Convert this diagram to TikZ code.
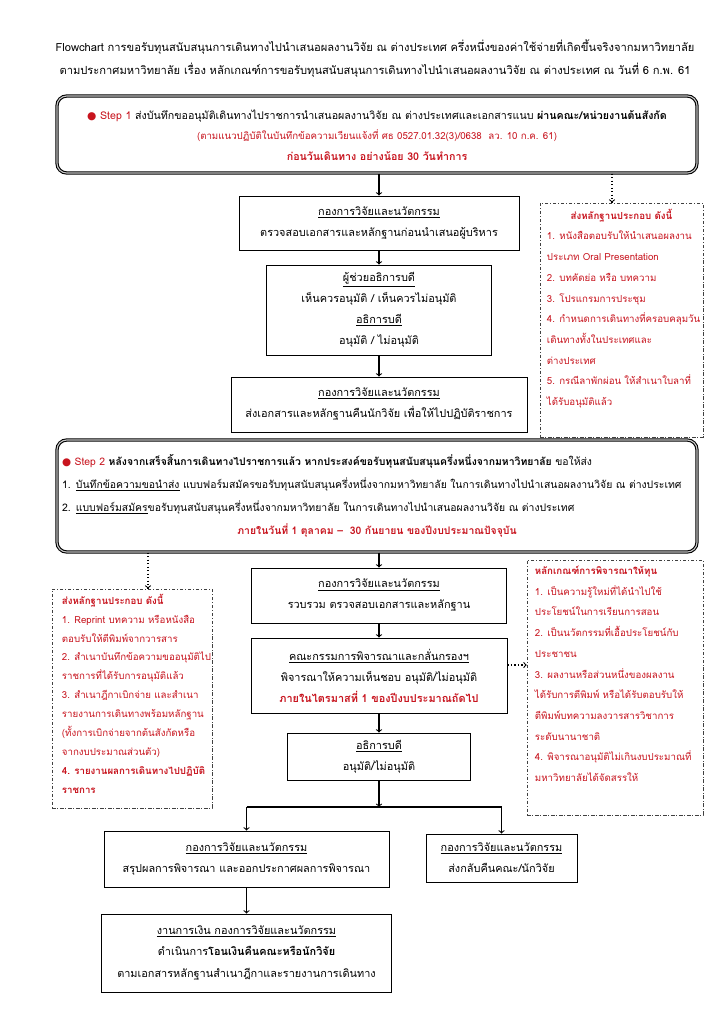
\documentclass[tikz,border=0pt]{standalone}
\usepackage{fontspec}
\setmainfont{Loma}[Script=Thai]
\newfontfamily\symfont{DejaVu Sans}
\usetikzlibrary{positioning,calc}

\definecolor{thred}{RGB}{200,20,30}
\newlength{\pxu}
\setlength{\pxu}{0.029cm}
\newcommand{\hd}[1]{\underline{#1}}
\newcommand{\dotmark}{{\color{thred}\symfont ●}}
\newcommand{\notefont}{\fontsize{8}{17.1}\selectfont\lineskiplimit=-30pt\relax}
\newcommand{\notefonttight}{\fontsize{8}{15.6}\selectfont\lineskiplimit=-30pt\relax}

\tikzset{
  flowbox/.style={draw, line width=0.7pt, align=center, inner sep=0pt,
    font=\fontsize{9}{17.3}\selectfont},
  stepbox/.style={draw, rounded corners=8pt, line width=0.9pt, double=gray!45,
    double distance=0.9pt, inner sep=0pt},
  notebox/.style={draw=black!75, line width=0.5pt,
    dash pattern=on 3pt off 1.5pt on 0.6pt off 1.5pt, inner sep=0pt},
  notetext/.style={text=thred, align=left, inner sep=0pt, anchor=north west,
    font=\notefont},
  flow/.style={->, line width=0.9pt},
  dotflow/.style={->, line width=0.9pt, dotted},
}

\begin{document}
\begin{tikzpicture}[x=\pxu, y=-\pxu]
\fill[white] (0,0) rectangle (724,1024);
\useasboundingbox (0,0) rectangle (724,1024);

% title
\node[align=center, font=\fontsize{9.2}{19}\selectfont] (title) at (375,59)
  {Flowchart การขอรับทุนสนับสนุนการเดินทางไปนำเสนอผลงานวิจัย ณ ต่างประเทศ ครึ่งหนึ่งของค่าใช้จ่ายที่เกิดขึ้นจริงจากมหาวิทยาลัย\\
   ตามประกาศมหาวิทยาลัย เรื่อง หลักเกณฑ์การขอรับทุนสนับสนุนการเดินทางไปนำเสนอผลงานวิจัย ณ ต่างประเทศ ณ วันที่ 6 ก.พ. 61};

% step 1
\node[stepbox, minimum width=640\pxu, minimum height=77\pxu, align=center,
  font=\fontsize{8.8}{16.1}\selectfont] (s1) at (377,134.5)
  {\mbox{}\\[-7pt]
   \dotmark{} {\color{thred}Step 1} ส่งบันทึกขออนุมัติเดินทางไปราชการนำเสนอผลงานวิจัย ณ ต่างประเทศและเอกสารแนบ \textbf{ผ่านคณะ/หน่วยงานต้นสังกัด}\\[0.5pt]
   {\color{thred}\fontsize{8}{16.1}\selectfont (ตามแนวปฏิบัติในบันทึกข้อความเวียนแจ้งที่ ศธ 0527.01.32(3)/0638~~ลว. 10 ก.ค. 61)}\\[0.5pt]
   {\color{thred}\bfseries ก่อนวันเดินทาง อย่างน้อย 30 วันทำการ}};

\node[flowbox, minimum width=280\pxu, minimum height=54\pxu] (a) at (379,223)
  {\hd{กองการวิจัยและนวัตกรรม}\\ ตรวจสอบเอกสารและหลักฐานก่อนนำเสนอผู้บริหาร};
\node[flowbox, minimum width=225\pxu, minimum height=90\pxu] (b) at (379,310)
  {\hd{ผู้ช่วยอธิการบดี}\\ เห็นควรอนุมัติ / เห็นควรไม่อนุมัติ\\ \hd{อธิการบดี}\\ อนุมัติ / ไม่อนุมัติ};
\node[flowbox, minimum width=296\pxu, minimum height=55\pxu] (c) at (379,404.5)
  {\hd{กองการวิจัยและนวัตกรรม}\\ ส่งเอกสารและหลักฐานคืนนักวิจัย เพื่อให้ไปปฏิบัติราชการ};

\node[notebox, minimum width=163\pxu, minimum height=234\pxu] (r1) at (621.5,320) {};
\node[notetext] (r1t) at ($(r1.north west)+(7,6)$)
  {\makebox[149\pxu]{\bfseries ส่งหลักฐานประกอบ ดังนี้}\\
   1. หนังสือตอบรับให้นำเสนอผลงาน\\
   ประเภท Oral Presentation\\
   2. บทคัดย่อ หรือ บทความ\\
   3. โปรแกรมการประชุม\\
   4. กำหนดการเดินทางที่ครอบคลุมวัน\\
   เดินทางทั้งในประเทศและ\\
   ต่างประเทศ\\
   5. กรณีลาพักผ่อน ให้สำเนาใบลาที่\\
   ได้รับอนุมัติแล้ว};

% step 2
\node[stepbox, minimum width=640\pxu, minimum height=112\pxu, text width=630\pxu,
  font=\fontsize{8.6}{19}\selectfont] (s2) at (377,496)
  {\setlength{\parindent}{0pt}\raggedright
   \dotmark{} {\color{thred}Step 2} \textbf{หลังจากเสร็จสิ้นการเดินทางไปราชการแล้ว หากประสงค์ขอรับทุนสนับสนุนครึ่งหนึ่งจากมหาวิทยาลัย} ขอให้ส่ง\\
   1. \hd{บันทึกข้อความขอนำส่ง} แบบฟอร์มสมัครขอรับทุนสนับสนุนครึ่งหนึ่งจากมหาวิทยาลัย ในการเดินทางไปนำเสนอผลงานวิจัย ณ ต่างประเทศ\\
   2. \hd{แบบฟอร์มสมัคร}ขอรับทุนสนับสนุนครึ่งหนึ่งจากมหาวิทยาลัย ในการเดินทางไปนำเสนอผลงานวิจัย ณ ต่างประเทศ\par
   \centering\color{thred}\bfseries ภายในวันที่ 1 ตุลาคม –~~30 กันยายน ของปีงบประมาณปัจจุบัน\par};

\node[notebox, minimum width=160\pxu, minimum height=219\pxu] (l) at (132,698.5) {};
\node[notetext, font=\notefonttight] (lt) at ($(l.north west)+(10,5)$)
  {\textbf{ส่งหลักฐานประกอบ ดังนี้}\\
   1. Reprint บทความ หรือหนังสือ\\
   ตอบรับให้ตีพิมพ์จากวารสาร\\
   2. สำเนาบันทึกข้อความขออนุมัติไป\\
   ราชการที่ได้รับการอนุมัติแล้ว\\
   3. สำเนาฎีกาเบิกจ่าย และสำเนา\\
   รายงานการเดินทางพร้อมหลักฐาน\\
   (ทั้งการเบิกจ่ายจากต้นสังกัดหรือ\\
   จากงบประมาณส่วนตัว)\\
   \textbf{4. รายงานผลการเดินทางไปปฏิบัติ}\\
   \textbf{ราชการ}};

\node[flowbox, minimum width=255\pxu, minimum height=55\pxu] (d) at (379,595.5)
  {\hd{กองการวิจัยและนวัตกรรม}\\ รวบรวม ตรวจสอบเอกสารและหลักฐาน};
\node[flowbox, minimum width=256\pxu, minimum height=75\pxu] (e) at (379,675.5)
  {\hd{คณะกรรมการพิจารณาและกลั่นกรองฯ}\\ พิจารณาให้ความเห็นชอบ อนุมัติ/ไม่อนุมัติ\\
   {\color{thred}\bfseries ภายในไตรมาสที่ 1 ของปีงบประมาณถัดไป}};

\node[notebox, minimum width=176\pxu, minimum height=255\pxu] (r2) at (615,687.5) {};
\node[notetext] (r2t) at ($(r2.north west)+(8,6)$)
  {\textbf{หลักเกณฑ์การพิจารณาให้ทุน}\\
   1. เป็นความรู้ใหม่ที่ได้นำไปใช้\\
   ประโยชน์ในการเรียนการสอน\\
   2. เป็นนวัตกรรมที่เอื้อประโยชน์กับ\\
   ประชาชน\\
   3. ผลงานหรือส่วนหนึ่งของผลงาน\\
   ได้รับการตีพิมพ์ หรือได้รับตอบรับให้\\
   ตีพิมพ์บทความลงวารสารวิชาการ\\
   ระดับนานาชาติ\\
   4. พิจารณาอนุมัติไม่เกินงบประมาณที่\\
   มหาวิทยาลัยได้จัดสรรให้};

\node[flowbox, minimum width=183\pxu, minimum height=47\pxu] (f) at (379,756.5)
  {\hd{อธิการบดี}\\ อนุมัติ/ไม่อนุมัติ};
\node[flowbox, minimum width=285\pxu, minimum height=56\pxu] (g) at (246.5,859)
  {\hd{กองการวิจัยและนวัตกรรม}\\ สรุปผลการพิจารณา และออกประกาศผลการพิจารณา};
\node[flowbox, minimum width=151\pxu, minimum height=48\pxu] (h) at (501.5,858)
  {\hd{กองการวิจัยและนวัตกรรม}\\ ส่งกลับคืนคณะ/นักวิจัย};
\node[flowbox, minimum width=290\pxu, minimum height=78\pxu,
  font=\fontsize{9}{18}\selectfont] (i) at (246.5,953)
  {\hd{งานการเงิน กองการวิจัยและนวัตกรรม}\\ ดำเนินการ\textbf{โอนเงินคืนคณะหรือนักวิจัย}\\
   ตามเอกสารหลักฐานสำเนาฎีกาและรายงานการเดินทาง};

% connectors
\coordinate (r1in) at (612,0);
\coordinate (lin) at (148,0);
\coordinate (eout) at (0,665);
\coordinate (split) at (0,807);

\draw[flow] (s1.south -| a) -- (a);
\draw[flow] (a) -- (b);
\draw[flow] (b) -- (c);
\draw[dotflow] (s1.south -| r1in) -- (r1.north -| r1in);
\draw[flow] (s2.south -| d) -- (d);
\draw[dotflow] (s2.south -| lin) -- (l.north -| lin);
\draw[flow] (d) -- (e);
\draw[dotflow] (e.east |- eout) -- (r2.west |- eout);
\draw[flow] (e) -- (f);
\draw[flow] (f) -- (f |- split);
\draw[line width=0.9pt] (g |- split) -- (h |- split);
\draw[flow] (g |- split) -- (g);
\draw[flow] (h |- split) -- (h);
\draw[flow] (g) -- (i);
\end{tikzpicture}
\end{document}
